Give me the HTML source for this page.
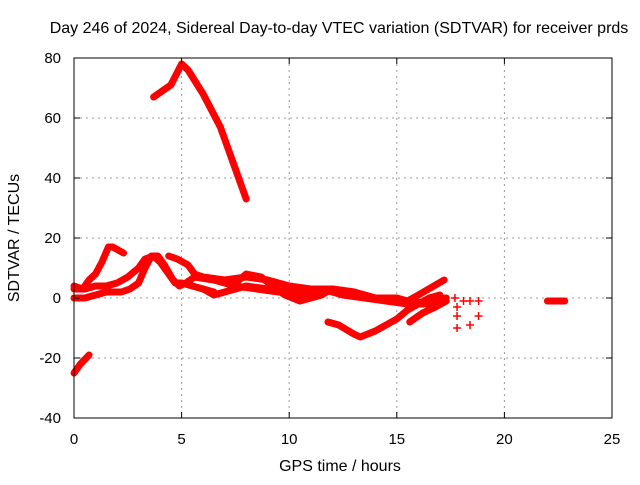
<!DOCTYPE html>
<html><head><meta charset="utf-8"><style>
body{margin:0;background:#fff}
text{font-family:"Liberation Sans",sans-serif;font-size:15px;fill:#000}
</style></head><body>
<svg id="chart" width="640" height="480" viewBox="0 0 640 480">
<text x="339" y="33" text-anchor="middle" style="font-size:16px">Day 246 of 2024, Sidereal Day-to-day VTEC variation (SDTVAR) for receiver prds</text>
<text x="340" y="471" text-anchor="middle" style="font-size:16px">GPS time / hours</text>
<text transform="translate(19,238) rotate(-90)" text-anchor="middle" style="font-size:16px">SDTVAR / TECUs</text>
<g id="grid"></g><g id="marks"></g>
<rect x="74" y="58" width="538" height="360" fill="none" stroke="#000" stroke-width="1"/>
<g id="ticks"></g>
</svg>
<script>
const xTicks=[0,5,10,15,20,25];
const yTicks=[-40,-20,0,20,40,60,80];
const trackArc=[[3.7,67],[4.5,71],[5.0,78],[5.3,76],[6,68],[6.8,57],[7.5,43],[8.0,33]];
const trackLowLeft=[[0,-25],[0.3,-22],[0.7,-19]];
const trackA=[[0,0],[0.5,0],[1,1],[1.5,2],[2.2,2],[2.6,3],[3.0,5],[3.3,10],[3.6,14],[3.9,14],[4.2,11],[4.6,6],[4.9,4],[5.2,5],[5.6,7],[6.5,6],[7.5,4],[8.5,3],[9.5,2],[10.5,2],[11.5,3],[12.5,1],[13.5,0],[14.5,-1],[15.5,-2],[16.5,-1],[17.3,0]];
const trackB=[[0,4],[0.4,3],[0.7,6],[1.0,8],[1.3,12],[1.6,17],[1.8,17],[2.3,15]];
const trackC=[[0,3],[0.5,3],[1,4],[1.5,4],[2.0,5],[2.5,7],[3.0,10],[3.3,13],[3.7,14],[4.0,12],[4.3,9],[4.7,5],[5.0,5],[5.5,4],[6,3],[6.5,2]];
const trackE=[[4.4,14],[4.8,13],[5.3,11],[5.6,8],[6,7],[7,6],[8,7],[9,6],[10,4],[11,3],[12,3],[13,2],[14,0],[15,-1],[16,-2],[17,-2]];
const trackF=[[7.5,5],[8.0,8],[8.7,7],[9.2,4],[9.8,1],[10.5,-1],[11.5,1],[12,3],[13,2],[14,0],[15,0],[15.5,-1],[16,1],[17.2,6]];
const trackG=[[11.8,-8],[12.3,-9],[13,-12],[13.3,-13],[14,-11],[14.5,-9],[15,-7],[15.5,-4],[16,-2],[16.5,0],[17,1]];
const trackH=[[15.6,-8],[16.2,-5],[16.8,-3],[17.3,-1]];
const trackI=[[6,3],[6.5,1],[7,2],[7.5,3],[8,4],[9,3],[10,2],[10.8,0],[11.5,1]];
const trackJ=[[22.0,-1],[22.3,-1],[22.5,-1],[22.8,-1]];
const scatterPts=[[17.7,0],[17.8,-3],[17.8,-6],[17.8,-10],[18.1,-1],[18.4,-1],[18.4,-9],[18.8,-1],[18.8,-6]];
const NS="http://www.w3.org/2000/svg";
const X=v=>74+v*538/25, Y=v=>298-v*3;
const grid=document.getElementById('grid'),ticks=document.getElementById('ticks'),marks=document.getElementById('marks');
function mk(t,a,p){const e=document.createElementNS(NS,t);for(const k in a)e.setAttribute(k,a[k]);p.appendChild(e);return e;}
xTicks.forEach(v=>{
 if(v>0&&v<25){const g=mk('line',{x1:X(v),x2:X(v),y1:58,y2:418,stroke:'#999','stroke-dasharray':'2,4'},grid);
 
 }
 mk('line',{x1:X(v),x2:X(v),y1:418,y2:412,stroke:'#000'},ticks);
 mk('line',{x1:X(v),x2:X(v),y1:58,y2:64,stroke:'#000'},ticks);
 const t=mk('text',{x:X(v),y:444,'text-anchor':'middle'},ticks);t.textContent=v;
 
 
});
yTicks.forEach(v=>{
 if(v>-40&&v<80){const g=mk('line',{x1:74,x2:612,y1:Y(v),y2:Y(v),stroke:'#999','stroke-dasharray':'2,4'},grid);
 
 }
 mk('line',{x1:74,x2:80,y1:Y(v),y2:Y(v),stroke:'#000'},ticks);
 mk('line',{x1:612,x2:606,y1:Y(v),y2:Y(v),stroke:'#000'},ticks);
 const t=mk('text',{x:61,y:Y(v)+5,'text-anchor':'end'},ticks);t.textContent=v;
 
 
});
[trackArc,trackLowLeft,trackA,trackB,trackC,trackE,trackF,trackG,trackH,trackI,trackJ].forEach(tr=>{
 const p=mk('polyline',{points:tr.map(d=>X(d[0])+','+Y(d[1])).join(' '),fill:'none',stroke:'#f00','stroke-width':7,'stroke-linejoin':'round','stroke-linecap':'round'},marks);
 
 
});
scatterPts.forEach(d=>{
 const p=mk('path',{d:`M${X(d[0])-4},${Y(d[1])}h8M${X(d[0])},${Y(d[1])-4}v8`,stroke:'#f00','stroke-width':1.5},marks);
 
 
});
</script>
</body></html>
